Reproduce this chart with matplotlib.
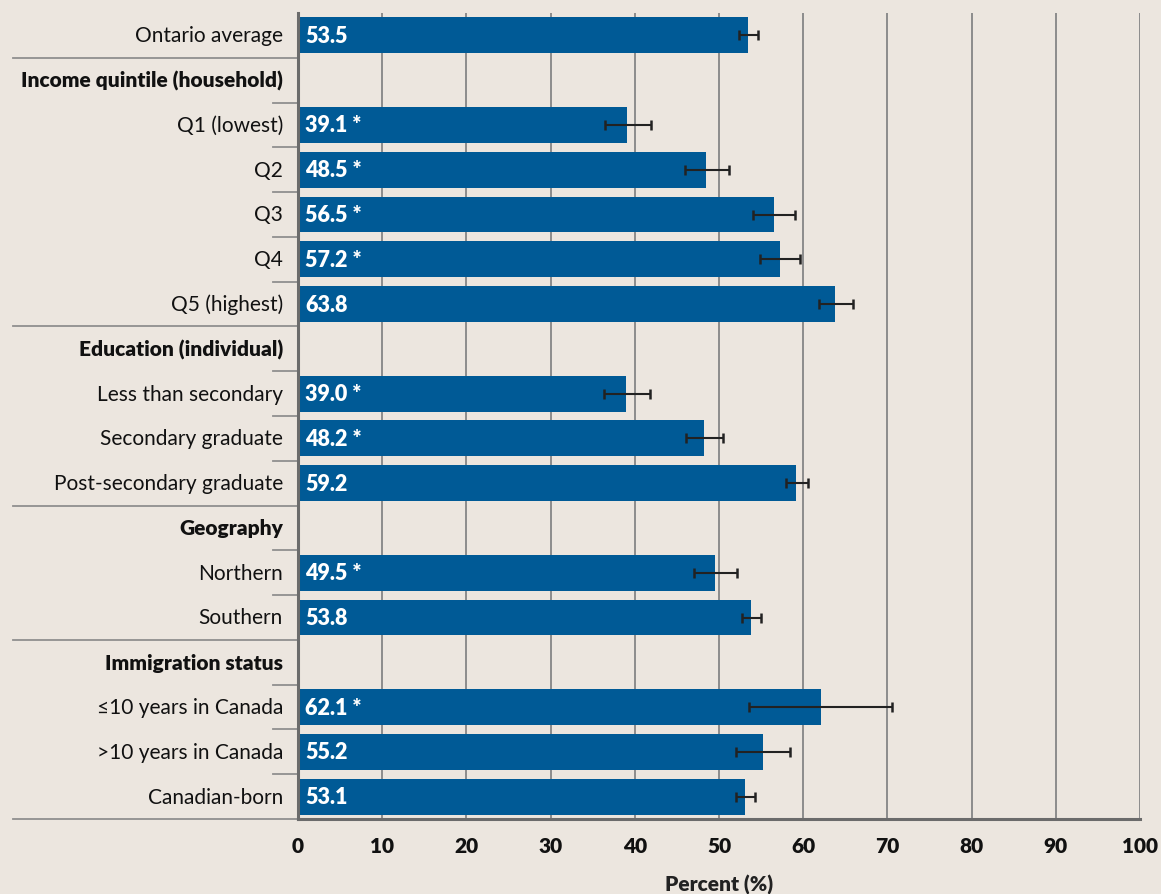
import matplotlib
matplotlib.use("Agg")
import matplotlib.pyplot as plt
import matplotlib.transforms as mtransforms
import numpy as np

# ---- data ----
labels = ["Ontario average", "Income quintile (household)", "Q1 (lowest)", "Q2", "Q3", "Q4",
          "Q5 (highest)", "Education (individual)", "Less than secondary", "Secondary graduate",
          "Post-secondary graduate", "Geography", "Northern", "Southern", "Immigration status",
          "\u226410 years in Canada", ">10 years in Canada", "Canadian-born"]
is_header = [False, True, False, False, False, False, False, True, False, False, False,
             True, False, False, True, False, False, False]
values = [53.5, None, 39.1, 48.5, 56.5, 57.2, 63.8, None, 39.0, 48.2, 59.2, None,
          49.5, 53.8, None, 62.1, 55.2, 53.1]
ci_low = [52.4, None, 36.5, 46.0, 54.0, 54.9, 61.9, None, 36.3, 46.1, 58.0, None,
          47.0, 52.7, None, 53.6, 52.0, 52.0]
ci_high = [54.6, None, 41.9, 51.2, 59.0, 59.6, 65.9, None, 41.8, 50.5, 60.6, None,
           52.1, 55.0, None, 70.6, 58.4, 54.3]
significant = [False, None, True, True, True, True, False, None, True, True, False, None,
               True, False, None, True, False, False]
x_ticks = [0, 10, 20, 30, 40, 50, 60, 70, 80, 90, 100]
x_label = "Percent (%)"

# ---- style ----
BG = "#ece6df"
BAR = "#005a96"
GRID = "#8c8c8c"
AXIS = "#6b6b6b"
SEP = "#8f8f8f"
FONT = "Lato"
FS = 15

W, H = 1161, 895
fig = plt.figure(figsize=(W / 100, H / 100), dpi=100, facecolor=BG)
left, right, top, bottom = 298 / W, 1140 / W, 1 - 14 / H, 1 - 820 / H
ax = fig.add_axes([left, bottom, right - left, top - bottom], facecolor=BG)

n = len(labels)
ypos = np.arange(n)

ax.set_xlim(0, 100)
ax.set_ylim(n - 0.5, -0.5)

for t in x_ticks[1:]:
    ax.axvline(t, color=GRID, lw=1.4, zorder=1)

for i in range(n):
    v = values[i]
    if v is None:
        continue
    ax.barh(ypos[i], v, height=0.8, color=BAR, zorder=2)
    ax.errorbar(v, ypos[i], xerr=[[v - ci_low[i]], [ci_high[i] - v]], fmt="none",
                ecolor="#222222", elinewidth=1.5, capsize=3.3, capthick=1.8, zorder=3)
    txt = f"{v:.1f}" + (" *" if significant[i] else "")
    ax.text(0.85, ypos[i], txt, color="white", fontsize=FS + 0.5, fontweight="heavy",
            family=FONT, va="center", ha="left", zorder=4)

# y labels
ax.set_yticks([])
trans = mtransforms.blended_transform_factory(ax.transAxes, ax.transData)
for i in range(n):
    ax.text(-0.0178, ypos[i], labels[i], transform=trans, ha="right", va="center",
            fontsize=FS, family=FONT, fontweight="heavy" if is_header[i] else "normal",
            color="#111111")

# separators
x_long = (13 - 298) / 842
x_short = (273 - 298) / 842
for b in range(n):
    yb = b + 0.5
    if b == n - 1 or is_header[b + 1]:
        x0 = x_long
    else:
        x0 = x_short
    ax.plot([x0, 0], [yb, yb], transform=trans, color=SEP, lw=1.3, clip_on=False, zorder=1)

# axes spines
for s in ["top", "right"]:
    ax.spines[s].set_visible(False)
for s in ["left", "bottom"]:
    ax.spines[s].set_color(AXIS)
    ax.spines[s].set_linewidth(2.2)
    ax.spines[s].set_zorder(5)

ax.set_xticks(x_ticks)
ax.tick_params(axis="x", length=0, pad=12, labelsize=FS, colors="#111111")
for lab in ax.get_xticklabels():
    lab.set_fontweight("heavy")
    lab.set_family(FONT)
ax.set_xlabel(x_label, fontsize=FS, fontweight="heavy", family=FONT, labelpad=14, color="#222222")

fig.savefig("out.png", dpi=100, facecolor=BG)
